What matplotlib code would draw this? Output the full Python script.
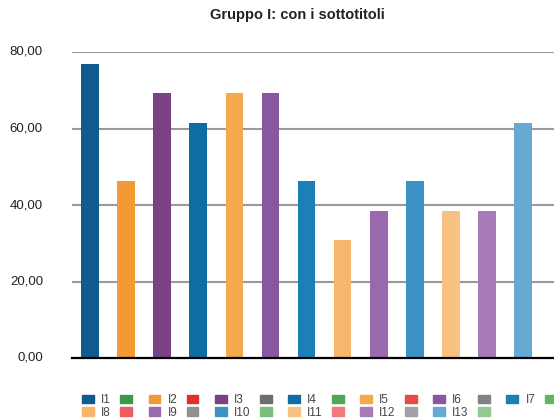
import numpy as np
import matplotlib.pyplot as plt
from matplotlib.patches import Patch
from matplotlib.transforms import blended_transform_factory, offset_copy

plt.rcParams['font.family'] = ['Liberation Sans', 'DejaVu Sans']

# data
labels = ['I1', 'I2', 'I3', 'I4', 'I5', 'I6', 'I7', 'I8', 'I9', 'I10', 'I11', 'I12', 'I13']
values = [76.92, 46.15, 69.23, 61.54, 69.23, 69.23, 46.15, 30.77, 38.46, 46.15, 38.46, 38.46, 61.54]
bar_colors = ['#0f5a8e', '#f39a35', '#7b4186', '#0e6ea4', '#f6a84e', '#88579f', '#1c7fb6',
              '#f8b66c', '#9a68ad', '#3b93c5', '#f9c283', '#a77bb8', '#66a9d3']
# unlabelled legend entries (empty series in the original)
blank_colors = ['#3b9a49', '#e0302a', '#6d6e70', '#4fa858', '#e84a45', '#808284', '#62b368',
                '#ec5e5e', '#8f9193', '#78bd7c', '#f07a7a', '#a0a2a4', '#8fcb90']
yticks = [0, 20, 40, 60, 80]

fig = plt.figure(figsize=(5.54, 4.18), dpi=100)
ax = fig.add_axes([72 / 554, 60 / 418, 1 - 72 / 554, 306 / 418])

x = np.arange(len(values))
ax.bar(x, values, width=0.49, color=bar_colors, zorder=3)

ax.set_xlim(-0.5, 12.86)
ax.set_ylim(0, 80)
ax.set_yticks(yticks)
ax.set_yticklabels([])
ax.tick_params(axis='y', length=0)
ax.set_xticks([])
# tick labels placed by hand, 29 px left of the plot area
trans = offset_copy(blended_transform_factory(ax.transAxes, ax.transData),
                    fig=fig, x=-29, y=0, units='dots')
for v in yticks:
    ax.text(0, v, f'{v:.2f}'.replace('.', ','), transform=trans, ha='right', va='center',
            fontsize=9.5, color='#222222', clip_on=False)
for g in yticks[1:]:
    ax.axhline(g, color='#9a9a9a', lw=1.5, zorder=1)
for s in ['top', 'right', 'left']:
    ax.spines[s].set_visible(False)
ax.spines['bottom'].set_color('black')
ax.spines['bottom'].set_linewidth(1.6)
ax.spines['bottom'].set_zorder(4)

fig.text(297 / 554, 1 - 15 / 418, 'Gruppo I: con i sottotitoli', ha='center', va='center',
         fontsize=10.5, fontweight='bold', color='#222222')

# legend, row-major order: label, blank, label, blank ...
row_items = []
for i in range(len(labels)):
    row_items.append((Patch(color=bar_colors[i]), labels[i]))
    row_items.append((Patch(color=blank_colors[i]), ''))
row1 = row_items[:14]
row2 = row_items[14:]
ordered = []
for c in range(14):
    ordered.append(row1[c])
    if c < len(row2):
        ordered.append(row2[c])
fig.legend([h for h, _ in ordered], [l for _, l in ordered], ncol=14,
           loc='upper left', bbox_to_anchor=(82 / 554, 1 - 394 / 418), frameon=False,
           fontsize=8.5, handlelength=1.0, handleheight=0.75, handletextpad=0.6,
           columnspacing=0.8, labelspacing=0.05, borderaxespad=0, borderpad=0,
           labelcolor='#444444')

fig.savefig('out.png', dpi=100)
